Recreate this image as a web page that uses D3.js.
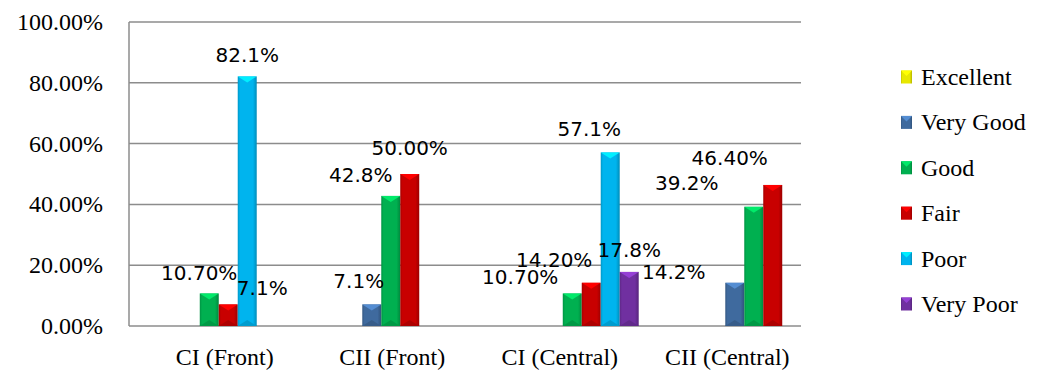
<!DOCTYPE html>
<html>
<head>
<meta charset="utf-8">
<script src="https://cdn.jsdelivr.net/npm/d3@7"></script>
<style>
  html, body { margin: 0; padding: 0; background: #fff; }
  svg { display: block; }
  .serif { font-family: "Liberation Serif", "Times New Roman", Tinos, "DejaVu Serif", serif; }
  .sans { font-family: "DejaVu Sans", sans-serif; }
</style>
</head>
<body>
<svg id="chart" width="1050" height="372"></svg>
<script>
// ---- data ----
const categories = ["CI (Front)", "CII (Front)", "CI (Central)", "CII (Central)"];
const seriesNames = ["Excellent", "Very Good", "Good", "Fair", "Poor", "Very Poor"];
const excellent = [0, 0, 0, 0];
const veryGood  = [0, 7.1, 0, 14.2];
const good      = [10.7, 42.8, 10.7, 39.2];
const fair      = [7.1, 50.0, 14.2, 46.4];
const poor      = [82.1, 0, 57.1, 0];
const veryPoor  = [0, 0, 17.8, 0];
const yTicks = [0, 20, 40, 60, 80, 100];
const yTickLabels = ["0.00%", "20.00%", "40.00%", "60.00%", "80.00%", "100.00%"];
// data labels as printed on the chart (category, series, text)
const labelCats   = [0, 0, 0, 1, 1, 1, 2, 2, 2, 2, 3, 3, 3];
const labelSeries = [2, 3, 4, 1, 2, 3, 2, 3, 4, 5, 1, 2, 3];
const labelTexts  = ["10.70%", "7.1%", "82.1%", "7.1%", "42.8%", "50.00%",
                     "10.70%", "14.20%", "57.1%", "17.8%", "14.2%", "39.2%", "46.40%"];

// ---- style / layout (kept apart from data) ----
const colors = ["#E8E800", "#3F6A9E", "#00B050", "#C80000", "#00B4EE", "#7030A0"];
const labelNudgeX = [-10, 34, 0, -13, -30, 0, -52, -37, -21, 0, -61, -67, -43];
const labelNudgeY = [1, 5, 0, -2, 0, -5, 5, -2, -2, -1, 10, -3, -6];

const values = [excellent, veryGood, good, fair, poor, veryPoor];
const svg = d3.select("#chart");

const plotLeft = 129, plotRight = 801, plotTop = 22, plotBottom = 326;

const y = d3.scaleLinear().domain([0, 100]).range([plotBottom, plotTop]);
const x0 = d3.scaleBand().domain(categories).range([128, 854]).padding(0);
const x1 = d3.scaleBand().domain(seriesNames).range([0, x0.bandwidth()]).paddingInner(0).paddingOuter(1.78);
const xLabel = d3.scaleBand().domain(categories).range([141, 811]);

// gradients
const defs = svg.append("defs");
colors.forEach((c, i) => {
  const g = defs.append("linearGradient").attr("id", "grad" + i)
    .attr("x1", "0%").attr("x2", "100%").attr("y1", "0%").attr("y2", "0%");
  const base = d3.color(c);
  g.append("stop").attr("offset", "0%").attr("stop-color", base.darker(0.5));
  g.append("stop").attr("offset", "12%").attr("stop-color", base);
  g.append("stop").attr("offset", "80%").attr("stop-color", base);
  g.append("stop").attr("offset", "100%").attr("stop-color", base.darker(0.7));
});

// gridlines
svg.append("g").selectAll("line").data(yTicks).join("line")
  .attr("x1", plotLeft).attr("x2", plotRight)
  .attr("y1", d => y(d)).attr("y2", d => y(d))
  .attr("stroke", "#8c8c8c").attr("stroke-width", 1.5);

// left axis line
svg.append("line")
  .attr("x1", plotLeft).attr("x2", plotLeft)
  .attr("y1", y(100)).attr("y2", y(0))
  .attr("stroke", "#8c8c8c").attr("stroke-width", 1.5);

// y tick labels
svg.append("g").selectAll("text").data(yTicks).join("text")
  .attr("class", "serif")
  .attr("x", 103).attr("y", d => y(d) + 8)
  .attr("text-anchor", "end")
  .attr("font-size", 24).attr("fill", "#000")
  .text((d, i) => yTickLabels[i]);

// bars
const barData = [];
categories.forEach((cat, ci) => {
  seriesNames.forEach((s, si) => {
    barData.push({ cat, ci, s, si, v: values[si][ci] });
  });
});

const bars = svg.append("g").selectAll("g").data(barData.filter(d => d.v > 0)).join("g");
bars.append("rect")
  .attr("x", d => x0(d.cat) + x1(d.s))
  .attr("y", d => y(d.v))
  .attr("width", x1.bandwidth())
  .attr("height", d => y(0) - y(d.v))
  .attr("fill", d => `url(#grad${d.si})`);
bars.append("path")
  .attr("d", d => {
    const xl = x0(d.cat) + x1(d.s), w = x1.bandwidth(), t = y(d.v);
    const h = Math.min(6, (y(0) - t) / 2);
    return `M${xl},${t}L${xl + w},${t}L${xl + w / 2},${t + h}Z`;
  })
  .attr("fill", d => d3.color(colors[d.si]).brighter(0.8));
bars.append("path")
  .attr("d", d => {
    const xl = x0(d.cat) + x1(d.s), w = x1.bandwidth(), b = y(0);
    const h = Math.min(6, (b - y(d.v)) / 2);
    return `M${xl},${b}L${xl + w},${b}L${xl + w / 2},${b - h}Z`;
  })
  .attr("fill", d => d3.color(colors[d.si]).darker(0.4));

// data labels
svg.append("g").selectAll("text").data(labelTexts).join("text")
  .attr("class", "sans")
  .attr("x", (t, i) => x0(categories[labelCats[i]]) + x1(seriesNames[labelSeries[i]]) + x1.bandwidth() / 2 + labelNudgeX[i])
  .attr("y", (t, i) => y(values[labelSeries[i]][labelCats[i]]) - 14 + labelNudgeY[i])
  .attr("text-anchor", "middle")
  .attr("font-size", 20).attr("fill", "#000")
  .text(t => t);

// category labels
svg.append("g").selectAll("text").data(categories).join("text")
  .attr("class", "serif")
  .attr("x", d => xLabel(d) + xLabel.bandwidth() / 2)
  .attr("y", 365)
  .attr("text-anchor", "middle")
  .attr("font-size", 24).attr("fill", "#000")
  .text(d => d);

// legend
const legendY = d3.scalePoint().domain(seriesNames).range([77, 304]);
const lg = svg.append("g").selectAll("g").data(seriesNames).join("g")
  .attr("transform", d => `translate(901,${legendY(d)})`);
lg.append("rect").attr("x", 0).attr("y", -6.5).attr("width", 11).attr("height", 13)
  .attr("fill", (d, i) => `url(#grad${i})`);
lg.append("path")
  .attr("d", "M0,-6.5L11,-6.5L5.5,-1Z")
  .attr("fill", (d, i) => d3.color(colors[i]).brighter(0.8));
lg.append("text").attr("class", "serif").attr("x", 20).attr("y", 8)
  .attr("font-size", 24).attr("fill", "#000")
  .text(d => d);
</script>
</body>
</html>
